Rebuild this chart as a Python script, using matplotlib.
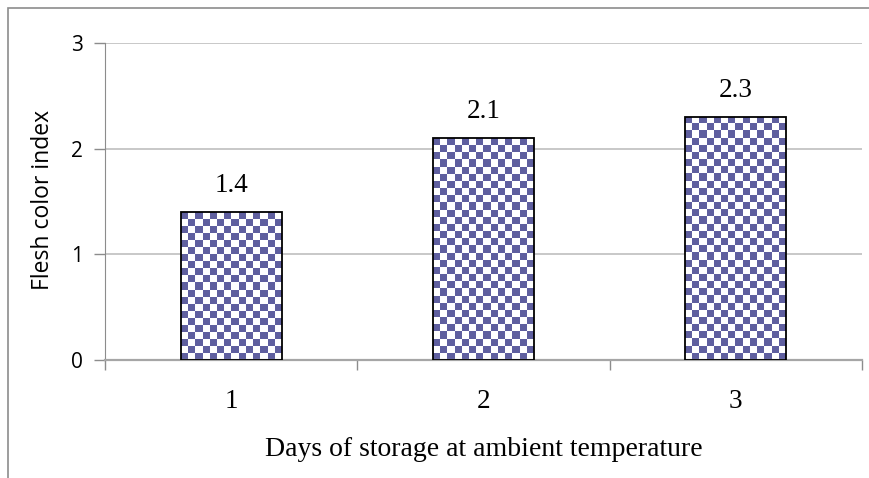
import matplotlib
matplotlib.use("Agg")
import matplotlib.pyplot as plt
from matplotlib.colors import ListedColormap
from matplotlib.patches import Rectangle
import numpy as np

days = ["1", "2", "3"]
flesh_index = [1.4, 2.1, 2.3]
value_labels = ["1.4", "2.1", "2.3"]

navy = "#5f5f9f"
grid_col = "#bfbfbf"

fig = plt.figure(figsize=(8.69, 4.78), dpi=100)
ax = fig.add_axes([0.1208, 0.2469, 0.8712, 0.6632])

# outer frame of the chart area (cropped at right/bottom in the original)
fig.patches.append(Rectangle((8 / 869, -0.2), 1.2, 1 - 8 / 478 + 0.2,
                             transform=fig.transFigure, fill=False,
                             edgecolor="#8c8c8c", linewidth=1.2))

x = np.arange(len(days))
bars = ax.bar(x, flesh_index, width=0.4, facecolor="none",
              edgecolor="black", linewidth=1.3, zorder=3)

ax.set_xlim(-0.5, len(days) - 0.5)
ax.set_ylim(0, 3)

# checkerboard fill, clipped to each bar
fig.canvas.draw()
cell = 7.2
for b in bars:
    bb = b.get_window_extent()
    nx = max(1, int(round(bb.width / cell)))
    ny = max(1, int(round(bb.height / cell)))
    ii, jj = np.indices((ny, nx))
    checker = ((ii + jj + 1) % 2).astype(float)
    img = ax.imshow(checker, extent=(b.get_x(), b.get_x() + b.get_width(),
                                     0, b.get_height()),
                    cmap=ListedColormap(["white", navy]), vmin=0, vmax=1,
                    interpolation="nearest", aspect="auto", zorder=2.5,
                    origin="upper")
    img.set_clip_path(b)
ax.set_xlim(-0.5, len(days) - 0.5)
ax.set_ylim(0, 3)

for b, lab in zip(bars, value_labels):
    ax.annotate(lab, (b.get_x() + b.get_width() / 2, b.get_height()),
                xytext=(0, 10), textcoords="offset points", ha="center",
                va="bottom", family="Liberation Serif", fontsize=19.5)

ax.set_yticks([0, 1, 2, 3])
ax.set_yticklabels(["0", "1", "2", "3"], family="Open Sans", fontsize=15)
ax.yaxis.grid(True, color=grid_col, linewidth=1.2)
ax.set_axisbelow(True)

# category ticks sit on the boundaries, labels in the middle
ax.set_xticks(np.arange(len(days) + 1) - 0.5)
ax.set_xticklabels([])
ax.set_xticks(x, minor=True)
ax.set_xticklabels(days, minor=True, family="Liberation Serif", fontsize=19.5)
ax.tick_params(axis="x", which="major", length=7, color="#8c8c8c", width=1)
ax.tick_params(axis="x", which="minor", length=0, pad=21)
ax.tick_params(axis="y", length=8, color="#8c8c8c", width=1, pad=8)

for s in ["top", "right"]:
    ax.spines[s].set_visible(False)
ax.spines["left"].set_color("#8c8c8c")
ax.spines["bottom"].set_color("#a6a6a6")
ax.spines["bottom"].set_linewidth(1.6)

ax.set_ylabel("Flesh color index", family="Open Sans", fontsize=16.5)
ax.yaxis.set_label_coords(-0.082, 0.505)
ax.yaxis.label.set_va("center")
ax.set_xlabel("Days of storage at ambient temperature",
              family="Liberation Serif", fontsize=20)
ax.xaxis.set_label_coords(0.5, -0.281)
ax.xaxis.label.set_va("center")

fig.savefig("out.png", dpi=100)
